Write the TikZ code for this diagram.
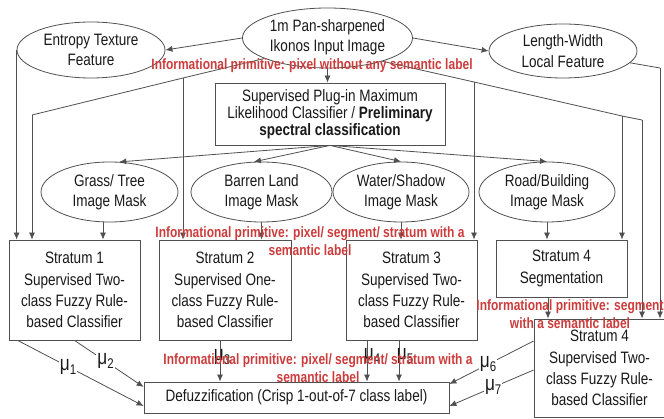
\documentclass[tikz,border=0pt]{standalone}
\usepackage{fontspec}
\setmainfont{Liberation Sans}[FakeStretch=0.82]
\newfontfamily\redfont{Liberation Sans}[FakeStretch=0.8]
\usetikzlibrary{shapes.geometric,arrows.meta,calc}
\definecolor{lbl}{RGB}{205,60,60}
\definecolor{ink}{RGB}{25,25,25}
\definecolor{edge}{RGB}{80,80,80}
\newcommand\mysub[1]{\raisebox{-0.35ex}{\fontsize{14}{14}\selectfont #1}}
\begin{document}
\begin{tikzpicture}[x=1pt,y=-1pt,
  ell/.style={ellipse, draw=edge, line width=0.8pt, inner sep=0, fill=white},
  box/.style={rectangle, draw=edge, line width=0.8pt, inner sep=0, align=center, text=ink, fill=white, font=\fontsize{16.5}{21.3}\selectfont},
  txt/.style={align=center, inner sep=0, text=ink, font=\fontsize{16.5}{20.5}\selectfont},
  conn/.style={draw=edge, line width=0.8pt},
  arr/.style={conn, -{Latex[length=7pt,width=6pt]}},
  redlbl/.style={text=lbl, align=center, inner sep=0, font=\redfont\bfseries\fontsize{15}{18}\selectfont},
  mu/.style={inner sep=1pt, text=ink, font=\fontsize{21}{21}\selectfont}
]
\useasboundingbox (0,0) rectangle (664,419);

% ellipses
\node[ell, minimum width=170pt, minimum height=60pt] (top) at (327.5,38) {};
\node[txt] (topt) at (327.5,37) {1m Pan-sharpened\\Ikonos Input Image};
\node[ell, minimum width=148pt, minimum height=56pt] (ent) at (91,50) {};
\node[txt] (entt) at (91,50) {Entropy Texture\\Feature};
\node[ell, minimum width=148pt, minimum height=54pt] (lw) at (563,51) {};
\node[txt] (lwt) at (563,51) {Length-Width\\Local Feature};

\node[box, minimum width=230pt, minimum height=62pt, font=\fontsize{16.5}{17}\selectfont] (ml) at (330,114)
  {Supervised Plug-in Maximum\\Likelihood Classifier / \textbf{Preliminary}\\\textbf{spectral classification}};

\node[ell, minimum width=137pt, minimum height=60pt] (gt) at (109.5,192) {};
\node[txt] (gtt) at (109.5,192) {Grass/ Tree\\Image Mask};
\node[ell, minimum width=141pt, minimum height=60pt] (bl) at (261.5,192) {};
\node[txt] (blt) at (261.5,192) {Barren Land\\Image Mask};
\node[ell, minimum width=136pt, minimum height=60pt] (ws) at (401,192) {};
\node[txt] (wst) at (401,192) {Water/Shadow\\Image Mask};
\node[ell, minimum width=136pt, minimum height=60pt] (rb) at (547,192) {};
\node[txt] (rbt) at (547,192) {Road/Building\\Image Mask};

% strata
\node[box, minimum width=131pt, minimum height=100pt] (s1) at (74.5,290)
  {Stratum 1\\Supervised Two-\\class Fuzzy Rule-\\based Classifier};
\node[box, minimum width=132pt, minimum height=100pt] (s2) at (225,290)
  {Stratum 2\\Supervised One-\\class Fuzzy Rule-\\based Classifier};
\node[box, minimum width=131pt, minimum height=100pt] (s3) at (411.5,290)
  {Stratum 3\\Supervised Two-\\class Fuzzy Rule-\\based Classifier};
\node[box, minimum width=131pt, minimum height=57pt] (s4) at (561.5,268.5)
  {Stratum 4\\Segmentation};
\node[box, minimum width=131pt, minimum height=98pt] (s4b) at (599.5,368)
  {Stratum 4\\Supervised Two-\\class Fuzzy Rule-\\based Classifier};
\node[box, minimum width=305pt, minimum height=31pt] (df) at (296.5,397.5)
  {Defuzzification (Crisp 1-out-of-7 class label)};

% junction coordinates
\coordinate (jl) at (183,78);
\coordinate (cl) at (32,115);
\coordinate (jr1) at (474,82);
\coordinate (jr2) at (622,116);
\coordinate (cr) at (642,120);
\coordinate (clw) at (660,68);

% connectors from input image
\draw[arr] (top.west) -- (ent.east);
\draw[arr] (top.east) -- (lw.west);
\draw[arr] (top.south) -- (top.south |- ml.north);
\draw[conn] (top.198) -- (jl) -- (cl);
\draw[arr] (cl) -- (cl |- s1.north);
\draw[arr] (jl) -- (jl |- s2.north);
\draw[conn] (top.-23) -- (jr1) -- (jr2) -- (cr);
\draw[arr] (cr) -- (cr |- s4b.north);
\draw[arr] (jr1) -- (jr1 |- s3.north);
\draw[arr] (jr2) -- (jr2 |- s4.north);
\draw[conn] (lw.-10) -- (clw);
\draw[arr] (clw) -- (clw |- s4b.north);
\draw[arr] (ent.west) -- (ent.west |- s1.north);

% classifier to masks
\draw[arr] (ml.south) -- (gt.72);
\draw[arr] (ml.south) -- (bl.104);
\draw[arr] (ml.south) -- (ws.north);
\draw[arr] (ml.south) -- (rb.north);

% masks to strata
\draw[arr] ([xshift=-6.5pt]gt.south) -- ([xshift=-6.5pt]gt.south |- s1.north);
\draw[arr] (bl.south) -- (bl.south |- s2.north);
\draw[arr] (ws.south) -- (ws.south |- s3.north);
\draw[arr] (rb.south) -- (rb.south |- s4.north);
\draw[arr] ([xshift=-13.5pt]s4.south) -- ([xshift=-13.5pt]s4.south |- s4b.north);

% strata to defuzzification
\draw[arr] ([xshift=9pt]s1.south west) -- node[mu, fill=white, pos=0.4] (m1) {μ\mysub{1}} ([yshift=-8.5pt]df.west);
\draw[arr] (s1.south) -- node[mu, fill=white, pos=0.45] (m2) {μ\mysub{2}} ([yshift=10.5pt]df.west);
\draw[arr] ([xshift=-5pt]s2.south) -- ([xshift=-5pt]s2.south |- df.north);
\draw[arr] ([xshift=-44.5pt]s3.south) -- ([xshift=-44.5pt]s3.south |- df.north);
\draw[arr] ([xshift=-12.5pt]s3.south) -- ([xshift=-12.5pt]s3.south |- df.north);
\draw[arr] ([yshift=27pt]s4b.west) -- node[mu, fill=white, pos=0.54] (m6) {μ\mysub{6}} ([yshift=13.5pt]df.east);
\draw[arr] ([yshift=-2pt]s4b.west) -- node[mu, fill=white, pos=0.48] (m7) {μ\mysub{7}} ([yshift=-8.5pt]df.east);
\node[mu] (m3) at (222,357) {μ\mysub{3}};
\node[mu] (m4) at (372,356) {μ\mysub{4}};
\node[mu] (m5) at (405,356) {μ\mysub{5}};

% red labels
\node[redlbl] (r1) at (312,66) {Informational primitive: pixel without any semantic label};
\node[redlbl] (r2) at (310,241) {Informational primitive: pixel/ segment/ stratum with a\\semantic label};
\node[redlbl] (r3) at (318,368) {Informational primitive: pixel/ segment/ stratum with a\\semantic label};
\node[redlbl] (r4) at (570,314) {Informational primitive: segment\\with a semantic label};
\end{tikzpicture}
\end{document}
